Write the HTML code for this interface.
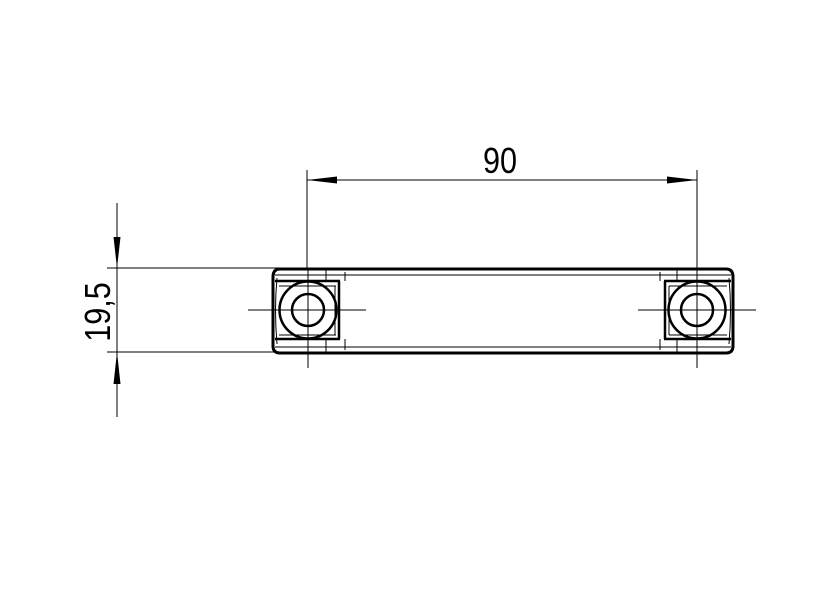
<!DOCTYPE html>
<html><head><style>body{margin:0;background:#fff}svg{display:block}</style></head><body>
<svg width="835" height="595" viewBox="0 0 835 595" xmlns="http://www.w3.org/2000/svg">
<g stroke="#000" fill="none">
<!-- dimension 90 -->
<line x1="307" y1="170" x2="307" y2="268" stroke-width="1"/>
<line x1="697" y1="170" x2="697" y2="268" stroke-width="1"/>
<line x1="307" y1="180" x2="697" y2="180" stroke-width="1"/>
<!-- dimension 19,5 -->
<line x1="117" y1="203" x2="117" y2="417" stroke-width="1"/>
<line x1="107" y1="268" x2="290" y2="268" stroke-width="1"/>
<line x1="107" y1="352" x2="290" y2="352" stroke-width="1"/>
<!-- centerlines -->
<line x1="248" y1="310" x2="366" y2="310" stroke-width="1"/>
<line x1="308" y1="268" x2="308" y2="368" stroke-width="1"/>
<line x1="638" y1="310" x2="756" y2="310" stroke-width="1"/>
<line x1="697" y1="268" x2="697" y2="368" stroke-width="1"/>
<!-- body -->
<path d="M280 269 H726 Q733 269 733 277 V346 Q733 353 726 353 H280 Q273 353 273 346 V277 Q273 269 280 269 Z" stroke-width="3"/>
<line x1="275" y1="275" x2="731" y2="275" stroke-width="1"/>
<line x1="275" y1="347" x2="731" y2="347" stroke-width="1"/>
<path d="M277 278 Q274 310 277 344" stroke-width="1"/>
<path d="M729 278 Q732 310 729 344" stroke-width="1"/>
<!-- left pocket -->
<line x1="275" y1="281" x2="340" y2="281" stroke-width="2.5"/>
<line x1="275" y1="339" x2="340" y2="339" stroke-width="2.5"/>
<line x1="339" y1="281" x2="339" y2="339" stroke-width="2.5"/>
<line x1="279" y1="286" x2="336" y2="286" stroke-width="1"/>
<line x1="279" y1="335" x2="336" y2="335" stroke-width="1"/>
<line x1="335" y1="286" x2="335" y2="335" stroke-width="1"/>
<path d="M326 269 V281 M345 272 V281 M326 339 V353 M345 339 V350" stroke-width="1"/>
<!-- right pocket -->
<line x1="664" y1="281" x2="731" y2="281" stroke-width="2.5"/>
<line x1="664" y1="339" x2="731" y2="339" stroke-width="2.5"/>
<line x1="665" y1="281" x2="665" y2="339" stroke-width="2.5"/>
<line x1="669" y1="286" x2="727" y2="286" stroke-width="1"/>
<line x1="669" y1="335" x2="727" y2="335" stroke-width="1"/>
<line x1="669" y1="286" x2="669" y2="335" stroke-width="1"/>
<path d="M660 272 V281 M677 269 V281 M660 339 V350 M677 339 V353" stroke-width="1"/>
<!-- circles -->
<circle cx="308" cy="310" r="28.5" stroke-width="2.5"/>
<circle cx="308" cy="310" r="16" stroke-width="2.5"/>
<circle cx="697" cy="310" r="28.5" stroke-width="2.5"/>
<circle cx="697" cy="310" r="16" stroke-width="2.5"/>
</g>
<g fill="#000">
<polygon points="307,180 337,176.5 337,183.5"/>
<polygon points="697,180 667,176.5 667,183.5"/>
<polygon points="117,268 113.5,237 120.5,237"/>
<polygon points="117,352 113.5,384 120.5,384"/>
</g>
<text x="500" y="173" font-family="Liberation Sans, sans-serif" font-size="36" text-anchor="middle" transform="translate(500 0) scale(0.85 1) translate(-500 0)">90</text>
<text transform="translate(110 312) rotate(-90) scale(0.85 1)" font-family="Liberation Sans, sans-serif" font-size="36" text-anchor="middle">19,5</text>
</svg>
</body></html>
